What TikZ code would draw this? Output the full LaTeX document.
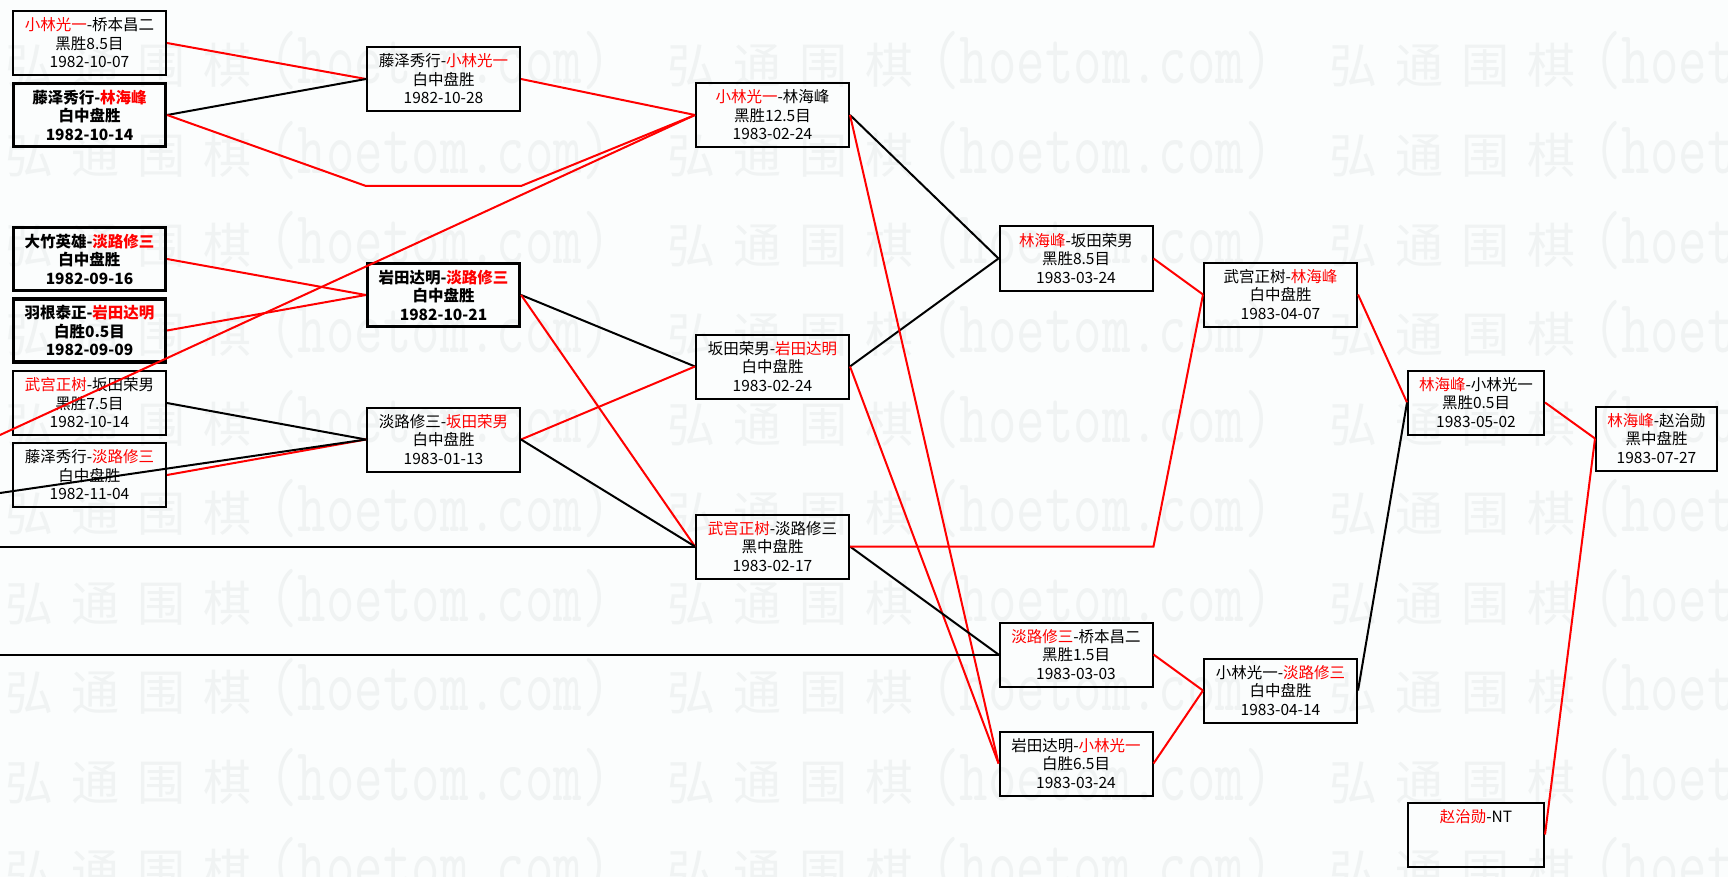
\documentclass[tikz,border=0pt]{standalone}
\usepackage{fontspec}
\usepackage{graphicx}
\setmainfont{Noto Sans CJK SC}
\newfontfamily\wmcjk{Noto Sans CJK SC}
\definecolor{bgc}{RGB}{251,253,253}
\definecolor{wmc}{RGB}{240,243,243}
\definecolor{winc}{RGB}{255,0,0}
\newcommand{\W}[1]{\textcolor{winc}{#1}}
\newcommand{\wmtext}{{\wmcjk\fontsize{48}{48}\selectfont\makebox[66pt][l]{弘}\makebox[66pt][l]{通}\makebox[66pt][l]{围}\makebox[66pt][l]{棋}}{\ttfamily\fontsize{75}{75}\selectfont\scalebox{0.737}[1]{(hoetom.com)}}}
\tikzset{
  box/.style={draw=black, line width=2pt, rectangle, inner sep=0pt, minimum height=64pt, align=center, font=\fontsize{15.5}{18.5}\selectfont},
  boldbox/.style={box, line width=3.2pt, minimum height=63pt, font=\fontsize{15.5}{18.5}\selectfont\bfseries},
  wA/.style={minimum width=153pt},
  wAb/.style={minimum width=152pt},
  wF/.style={minimum width=136pt},
  wG/.style={minimum width=121pt},
  redline/.style={draw=winc, line width=2pt},
  blackline/.style={draw=black, line width=2pt},
  wmark/.style={anchor=base west, inner sep=0pt, text=wmc}
}
\begin{document}
\begin{tikzpicture}[x=1pt,y=-1pt]
\useasboundingbox (0,0) rectangle (1728,877);
\fill[bgc] (0,0) rectangle (1728,877);
% watermark
\foreach \r in {0,...,9}{
  \foreach \c in {0,1,2}{
    \node[wmark] (wm-\r-\c) at ({5+662*\c},{84+89.5*\r}) {\wmtext};
  }
}
% column A
\node[box,wA] (a1) at (89.5,43) {\W{小林光一}-桥本昌二\\黑胜8.5目\\1982-10-07};
\node[boldbox,wAb] (a2) at (89.5,115) {藤泽秀行-\W{林海峰}\\白中盘胜\\1982-10-14};
\node[boldbox,wAb] (a3) at (89.5,259) {大竹英雄-\W{淡路修三}\\白中盘胜\\1982-09-16};
\node[boldbox,wAb] (a4) at (89.5,330.5) {羽根泰正-\W{岩田达明}\\白胜0.5目\\1982-09-09};
\node[box,wA] (a5) at (89.5,403) {\W{武宫正树}-坂田荣男\\黑胜7.5目\\1982-10-14};
\node[box,wA] (a6) at (89.5,475) {藤泽秀行-\W{淡路修三}\\白中盘胜\\1982-11-04};
% column B
\node[box,wA] (b1) at (443.5,79) {藤泽秀行-\W{小林光一}\\白中盘胜\\1982-10-28};
\node[boldbox,wAb] (b2) at (443.5,295) {岩田达明-\W{淡路修三}\\白中盘胜\\1982-10-21};
\node[box,wA] (b3) at (443.5,439.5) {淡路修三-\W{坂田荣男}\\白中盘胜\\1983-01-13};
% column C
\node[box,wA] (c1) at (772.5,115) {\W{小林光一}-林海峰\\黑胜12.5目\\1983-02-24};
\node[box,wA] (c2) at (772.5,366.5) {坂田荣男-\W{岩田达明}\\白中盘胜\\1983-02-24};
\node[box,wA] (c3) at (772.5,546.5) {\W{武宫正树}-淡路修三\\黑中盘胜\\1983-02-17};
% column D
\node[box,wA] (d1) at (1076,258.5) {\W{林海峰}-坂田荣男\\黑胜8.5目\\1983-03-24};
\node[box,wA] (d3) at (1076,654.5) {\W{淡路修三}-桥本昌二\\黑胜1.5目\\1983-03-03};
\node[box,wA] (d4) at (1076,763.5) {岩田达明-\W{小林光一}\\白胜6.5目\\1983-03-24};
% column E
\node[box,wA] (e1) at (1280.5,294.5) {武宫正树-\W{林海峰}\\白中盘胜\\1983-04-07};
\node[box,wA] (e2) at (1280.5,690.5) {小林光一-\W{淡路修三}\\白中盘胜\\1983-04-14};
% column F
\node[box,wF] (f1) at (1476,402.5) {\W{林海峰}-小林光一\\黑胜0.5目\\1983-05-02};
\node[box,wF] (h) at (1476,834.5) {};
\node[inner sep=0pt, font=\fontsize{15.5}{18.5}\selectfont] (htxt) at (1476,817) {\W{赵治勋}-NT};
% column G
\node[box,wG] (g) at (1656.5,438.5) {\W{林海峰}-赵治勋\\黑中盘胜\\1983-07-27};
% free ends and bends
\coordinate (l1) at (0,435);
\coordinate (l2) at (0,493);
\coordinate (l3) at (0,546.5);
\coordinate (l4) at (0,654.5);
\coordinate (k1) at (366,186);
\coordinate (k2) at (521,186);
\coordinate (k3) at (d3.east |- c3.east);
% connectors
\draw[redline] (a1.east) -- (b1.west);
\draw[blackline] (a2.east) -- (b1.west);
\draw[redline] (a2.east) -- (k1) -- (k2) -- (c1.west);
\draw[redline] (b1.east) -- (c1.west);
\draw[redline] (l1) -- (c1.west);
\draw[redline] (a3.east) -- (b2.west);
\draw[redline] (a4.east) -- (b2.west);
\draw[blackline] (a5.east) -- (b3.west);
\draw[redline] (a6.east) -- (b3.west);
\draw[blackline] (l2) -- (b3.west);
\draw[blackline] (b2.east) -- (c2.west);
\draw[redline] (b2.east) -- (c3.west);
\draw[redline] (b3.east) -- (c2.west);
\draw[blackline] (b3.east) -- (c3.west);
\draw[blackline] (l3) -- (c3.west);
\draw[blackline] (c1.east) -- (d1.west);
\draw[blackline] (c2.east) -- (d1.west);
\draw[redline] (c1.east) -- (d4.west);
\draw[redline] (c2.east) -- (d4.west);
\draw[blackline] (c3.east) -- (d3.west);
\draw[redline] (c3.east) -- (k3) -- (e1.west);
\draw[blackline] (l4) -- (d3.west);
\draw[redline] (d1.east) -- (e1.west);
\draw[redline] (d3.east) -- (e2.west);
\draw[redline] (d4.east) -- (e2.west);
\draw[redline] (e1.east) -- (f1.west);
\draw[blackline] (e2.east) -- (f1.west);
\draw[redline] (f1.east) -- (g.west);
\draw[redline] (h.east) -- (g.west);
\end{tikzpicture}
\end{document}
